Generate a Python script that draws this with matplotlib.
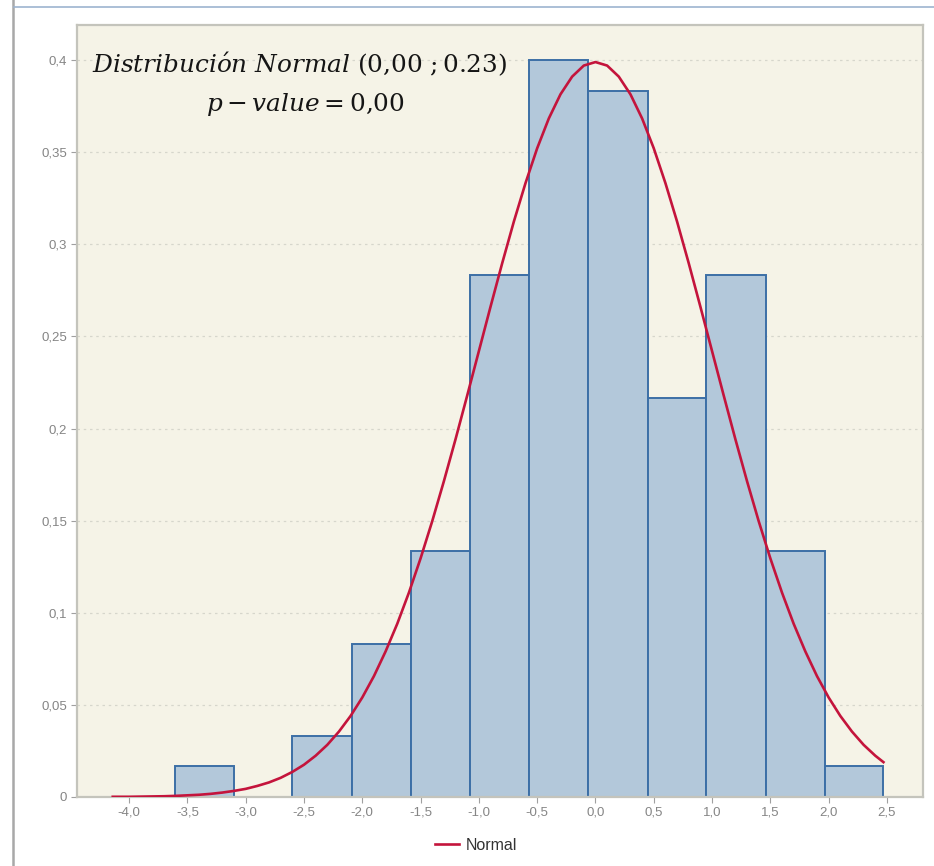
import numpy as np
import matplotlib.pyplot as plt
from matplotlib.lines import Line2D

# datos
bin_edges = [-3.61, -3.10, -2.60, -2.09, -1.58, -1.08, -0.57,
             -0.06, 0.45, 0.95, 1.46, 1.97, 2.47]
bar_heights = [0.0167, 0.0, 0.0333, 0.0833, 0.1333, 0.2833, 0.40,
               0.3833, 0.2167, 0.2833, 0.1333, 0.0167]

curve_x = [-4.14, -4.0, -3.9, -3.8, -3.7, -3.6, -3.5, -3.4, -3.3, -3.2,
           -3.1, -3.0, -2.9, -2.8, -2.7, -2.6, -2.5, -2.4, -2.3, -2.2,
           -2.1, -2.0, -1.9, -1.8, -1.7, -1.6, -1.5, -1.4, -1.3, -1.2,
           -1.1, -1.0, -0.9, -0.8, -0.7, -0.6, -0.5, -0.4, -0.3, -0.2,
           -0.1, 0.0, 0.1, 0.2, 0.3, 0.4, 0.5, 0.6, 0.7, 0.8,
           0.9, 1.0, 1.1, 1.2, 1.3, 1.4, 1.5, 1.6, 1.7, 1.8,
           1.9, 2.0, 2.1, 2.2, 2.3, 2.4, 2.47]
curve_y = [0.0001, 0.0001, 0.0002, 0.0003, 0.0004, 0.0006, 0.0009, 0.0012, 0.0017, 0.0024,
           0.0033, 0.0044, 0.0060, 0.0079, 0.0104, 0.0136, 0.0175, 0.0224, 0.0283, 0.0355,
           0.0440, 0.0540, 0.0656, 0.0790, 0.0940, 0.1109, 0.1295, 0.1497, 0.1714, 0.1942,
           0.2179, 0.2420, 0.2661, 0.2897, 0.3123, 0.3332, 0.3521, 0.3683, 0.3814, 0.3910,
           0.3970, 0.3989, 0.3970, 0.3910, 0.3814, 0.3683, 0.3521, 0.3332, 0.3123, 0.2897,
           0.2661, 0.2420, 0.2179, 0.1942, 0.1714, 0.1497, 0.1295, 0.1109, 0.0940, 0.0790,
           0.0656, 0.0540, 0.0440, 0.0355, 0.0283, 0.0224, 0.0189]

x_ticks = [-4.0, -3.5, -3.0, -2.5, -2.0, -1.5, -1.0, -0.5, 0.0, 0.5, 1.0, 1.5, 2.0, 2.5]
x_labels = ['-4,0', '-3,5', '-3,0', '-2,5', '-2,0', '-1,5', '-1,0', '-0,5',
            '0,0', '0,5', '1,0', '1,5', '2,0', '2,5']
y_ticks = [0, 0.05, 0.1, 0.15, 0.2, 0.25, 0.3, 0.35, 0.4]
y_labels = ['0', '0,05', '0,1', '0,15', '0,2', '0,25', '0,3', '0,35', '0,4']

plt.rcParams['mathtext.fontset'] = 'dejavuserif'
plt.rcParams['font.family'] = ['Liberation Sans', 'DejaVu Sans']

fig = plt.figure(figsize=(9.34, 8.66), dpi=100)
ax = fig.add_axes([0.0824, 0.0797, 0.9058, 0.8914])
ax.set_facecolor('#F5F3E7')

# ==========================================================
# Histograma y curva
# ==========================================================
lefts = np.array(bin_edges[:-1])
widths = np.diff(bin_edges)
ax.bar(lefts, bar_heights, width=widths, align='edge',
       color='#B3C8DA', edgecolor='#3C6FA6', linewidth=1.4, zorder=2)

ax.plot(curve_x, curve_y, color='#C4143C', linewidth=1.9, zorder=3,
        label='Normal')

ax.set_xlim(-4.447, 2.809)
ax.set_ylim(0, 0.419)
ax.set_xticks(x_ticks)
ax.set_xticklabels(x_labels)
ax.set_yticks(y_ticks)
ax.set_yticklabels(y_labels)
ax.tick_params(colors='#A0A0A0', labelcolor='#858585', labelsize=9.5,
               length=4, width=0.8, pad=3)

ax.grid(axis='y', linestyle=(0, (2, 3)), color='#D6D6CC', linewidth=0.9, zorder=0)
ax.set_axisbelow(True)

for s in ax.spines.values():
    s.set_color('#C4C4BC')
    s.set_linewidth(1.6)

# ==========================================================
# Texto
# ==========================================================
ax.text(0.2636, 0.948,
        r'$\mathit{Distribuci\acute{o}n\ Normal}\ (0{,}00\ ;0.23)$',
        transform=ax.transAxes, ha='center', va='center',
        fontsize=17.8, color='#151515')
ax.text(0.2705, 0.897, r'$p - value = 0{,}00$',
        transform=ax.transAxes, ha='center', va='center',
        fontsize=17.8, color='#151515')

fig.legend(loc='center', bbox_to_anchor=(0.51, 0.024), frameon=False,
           handlelength=1.5, handletextpad=0.4, fontsize=11.5,
           labelcolor='#333333')

# marco exterior
fig.add_artist(Line2D([0.0135, 0.0135], [0, 1], transform=fig.transFigure,
                      color='#A8A8A8', linewidth=1.8))
fig.add_artist(Line2D([0.015, 1], [0.992, 0.992], transform=fig.transFigure,
                      color='#9DB4D0', linewidth=1.2))

fig.savefig('out.png', dpi=100)
